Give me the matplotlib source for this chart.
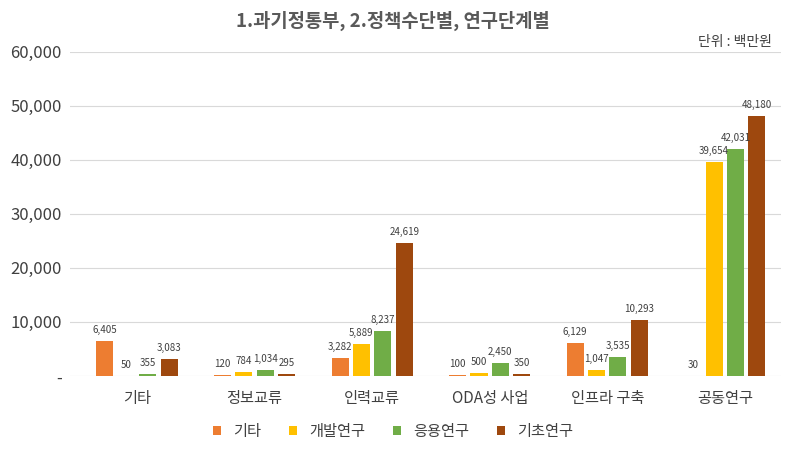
import matplotlib
matplotlib.use("Agg")
import matplotlib.pyplot as plt
import numpy as np
from matplotlib.ticker import FuncFormatter

plt.rcParams['font.family'] = ['Noto Sans CJK KR', 'DejaVu Sans']

categories = ["기타", "정보교류", "인력교류", "ODA성 사업", "인프라 구축", "공동연구"]
series_names = ["기타", "개발연구", "응용연구", "기초연구"]
etc_vals = [6405, 120, 3282, 100, 6129, 30]
dev_vals = [50, 784, 5889, 500, 1047, 39654]
app_vals = [355, 1034, 8237, 2450, 3535, 42031]
basic_vals = [3083, 295, 24619, 350, 10293, 48180]
colors = ["#ED7D31", "#FFC000", "#70AD47", "#9E480E"]

fig = plt.figure(figsize=(7.86, 4.55), dpi=100)
ax = fig.add_axes([0.089, 0.174, 0.905, 0.712])

x = np.arange(len(categories))
step = 0.182
width = 0.145
all_series = [etc_vals, dev_vals, app_vals, basic_vals]
for i, (name, vals, c) in enumerate(zip(series_names, all_series, colors)):
    pos = x + (i - 1.5) * step
    ax.bar(pos, vals, width=width, color=c, label=name, zorder=2)
    for p, v in zip(pos, vals):
        ax.text(p, v + 1100, f"{v:,}", ha="center", va="bottom",
                fontsize=7, color="#404040")

ax.set_ylim(0, 60000)
ax.set_xlim(-0.57, 5.48)
ax.set_yticks(np.arange(0, 60001, 10000))
ax.yaxis.set_major_formatter(FuncFormatter(lambda v, _: "-" if v == 0 else f"{int(v):,}"))
ax.grid(axis="y", color="#d9d9d9", linewidth=0.8, zorder=0)
for s in ax.spines.values():
    s.set_visible(False)
ax.tick_params(axis="y", length=0, labelsize=12, colors="#404040", pad=6)
ax.tick_params(axis="x", length=0, labelsize=11, colors="#404040", pad=10)
ax.set_xticks(x, categories)

fig.text(0.5, 0.953, "1.과기정통부, 2.정책수단별, 연구단계별", ha="center", va="center",
         fontsize=13.5, weight="bold", color="#595959")
fig.text(0.982, 0.907, "단위 : 백만원", ha="right", va="center", fontsize=10, color="#404040")

fig.legend(loc="center", bbox_to_anchor=(0.5, 0.052), ncol=4, frameon=False,
           fontsize=11, handlelength=0.55, handleheight=0.55, columnspacing=1.8,
           handletextpad=0.8, labelcolor="#404040")

fig.savefig("out.png", dpi=100, facecolor="white")
